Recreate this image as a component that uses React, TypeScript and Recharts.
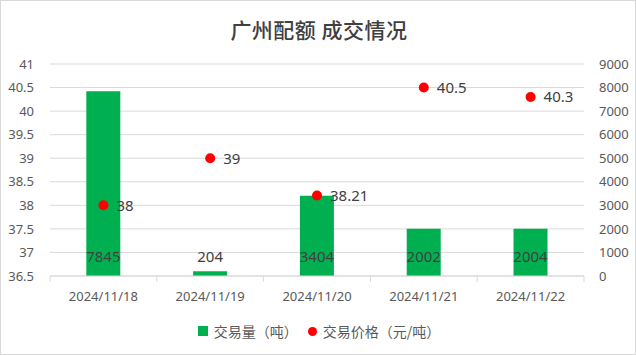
import React from 'react';
import { ComposedChart, Bar, Line, XAxis, YAxis, CartesianGrid, LabelList } from 'recharts';

const dates = ['2024/11/18', '2024/11/19', '2024/11/20', '2024/11/21', '2024/11/22'];
const volumes = [7845, 204, 3404, 2002, 2004];
const prices = [38, 39, 38.21, 40.5, 40.3];
const leftTicks = [36.5, 37, 37.5, 38, 38.5, 39, 39.5, 40, 40.5, 41];
const rightTicks = [0, 1000, 2000, 3000, 4000, 5000, 6000, 7000, 8000, 9000];

const data = dates.map((d, i) => ({ date: d, volume: volumes[i], price: prices[i] }));

const W = 636;
const H = 355;
const LEFT_W = 50;
const RIGHT_W = 52;
const PLOT_W = W - LEFT_W - RIGHT_W;
const BAND = PLOT_W / dates.length;
const FONT = '"Noto Sans", "Noto Sans CJK SC", sans-serif';

const XTick = (props: any) => {
  const { x, y, payload, index } = props;
  return (
    <g>
      <line x1={x - BAND / 2} x2={x - BAND / 2} y1={y} y2={y + 6} stroke="#d9d9d9" />
      {index === dates.length - 1 && (
        <line x1={x + BAND / 2} x2={x + BAND / 2} y1={y} y2={y + 6} stroke="#d9d9d9" />
      )}
      <text x={x} y={y + 25} textAnchor="middle" fill="#595959" fontSize={13} fontFamily={FONT}>
        {payload.value}
      </text>
    </g>
  );
};

export default function App() {
  return (
    <div
      style={{
        position: 'absolute',
        left: 0,
        top: 0,
        width: W,
        height: H,
        boxSizing: 'border-box',
        border: '1px solid #d9d9d9',
        background: '#fff',
        fontFamily: FONT,
      }}
    >
      <div
        style={{
          position: 'absolute',
          left: 0,
          top: 13,
          width: W,
          textAlign: 'center',
          fontSize: 21,
          fontWeight: 500,
          color: '#404040',
          fontFamily: '"Noto Sans CJK SC", sans-serif',
          letterSpacing: 0.5,
          lineHeight: '30px',
        }}
      >
        广州配额 成交情况
      </div>
      <div style={{ position: 'absolute', left: -1, top: -1 }}>
        <ComposedChart
          width={W}
          height={H}
          data={data}
          margin={{ top: 64, right: 0, left: 0, bottom: 49 }}
          barCategoryGap="34%"
        >
          <CartesianGrid vertical={false} stroke="#d9d9d9" yAxisId="left" />
          <XAxis
            dataKey="date"
            height={30}
            tick={<XTick />}
            tickLine={false}
            tickSize={0}
            tickMargin={0}
            axisLine={{ stroke: '#d9d9d9' }}
            interval={0}
          />
          <YAxis
            yAxisId="left"
            orientation="left"
            width={LEFT_W}
            domain={[36.5, 41]}
            ticks={leftTicks}
            axisLine={false}
            tickLine={false}
            tickMargin={10}
            tick={{ fill: '#595959', fontSize: 13, fontFamily: FONT }}
          />
          <YAxis
            yAxisId="right"
            orientation="right"
            width={RIGHT_W}
            domain={[0, 9000]}
            ticks={rightTicks}
            axisLine={false}
            tickLine={false}
            tickMargin={9}
            tick={{ fill: '#595959', fontSize: 13, fontFamily: FONT }}
          />
          <Bar dataKey="volume" yAxisId="right" fill="#00B050" isAnimationActive={false}>
            <LabelList
              dataKey="volume"
              position="insideBottom"
              offset={14}
              fill="#404040"
              fontSize={15}
              fontFamily={FONT}
            />
          </Bar>
          <Line
            dataKey="price"
            yAxisId="left"
            stroke="none"
            dot={{ r: 5, fill: '#FF0000', stroke: 'none' }}
            activeDot={false}
            isAnimationActive={false}
          >
            <LabelList
              dataKey="price"
              position="right"
              offset={13}
              fill="#404040"
              fontSize={15}
              fontFamily={FONT}
            />
          </Line>
        </ComposedChart>
      </div>
      <div
        style={{
          position: 'absolute',
          top: 320,
          left: 0,
          width: W,
          display: 'flex',
          justifyContent: 'center',
          alignItems: 'center',
          fontSize: 14,
          color: '#595959',
          fontFamily: '"Noto Sans CJK SC", sans-serif',
        }}
      >
        <span style={{ display: 'inline-block', width: 10, height: 10, background: '#00B050', marginRight: 6 }} />
        <span>交易量（吨）</span>
        <span
          style={{
            display: 'inline-block',
            width: 9,
            height: 9,
            borderRadius: '50%',
            background: '#FF0000',
            marginLeft: 10,
            marginRight: 6,
          }}
        />
        <span>交易价格（元/吨）</span>
      </div>
    </div>
  );
}
